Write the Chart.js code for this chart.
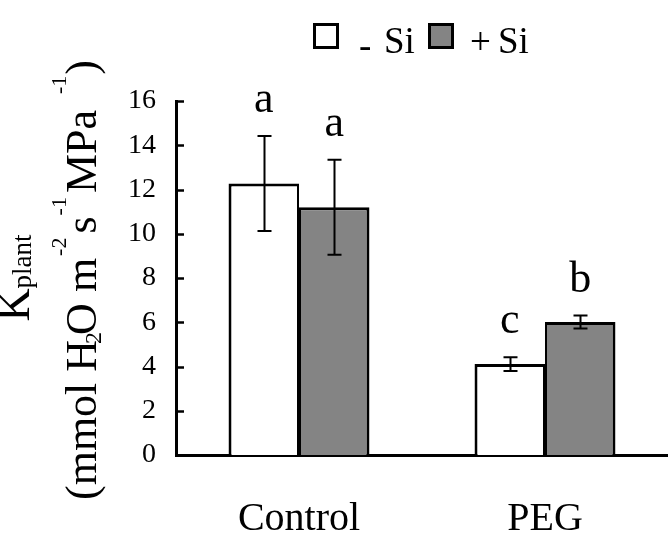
<!DOCTYPE html>
<html>
<head>
<meta charset="utf-8">
<script src="https://cdn.jsdelivr.net/npm/chart.js@4.4.1/dist/chart.umd.min.js"></script>
<style>
html,body{margin:0;padding:0;background:#fff;}
#wrap{width:668px;height:535px;}
</style>
</head>
<body>
<div id="wrap"><canvas id="c" width="668" height="535"></canvas></div>
<script>
// ---- data ----
const categories = ['Control', 'PEG'];
const seriesNames = ['- Si', '+ Si'];
const minusSi = [12.27, 4.11];
const plusSi = [11.2, 6.01];
const minusSiErr = [2.15, 0.31];
const plusSiErr = [2.15, 0.29];
const minusSiLetters = ['a', 'c'];
const plusSiLetters = ['a', 'b'];
const yMin = 0, yMax = 16, yStep = 2;

const SERIF = "'Liberation Serif', 'Times New Roman', serif";
const GREY = '#848484';

const errors = [minusSiErr, plusSiErr];
const letters = [minusSiLetters, plusSiLetters];

const overlay = {
  id: 'overlay',
  afterDatasetsDraw(chart) {
    const ctx = chart.ctx;
    const ys = chart.scales.y;
    const area = chart.chartArea;
    ctx.save();
    // inward y ticks
    ctx.strokeStyle = '#000';
    ctx.lineWidth = 2.5;
    ys.ticks.forEach(t => {
      const py = Math.round(ys.getPixelForValue(t.value)) + 0.5;
      ctx.beginPath();
      ctx.moveTo(area.left, py);
      ctx.lineTo(area.left + 8, py);
      ctx.stroke();
    });
    // error bars + letters
    chart.data.datasets.forEach((ds, di) => {
      const meta = chart.getDatasetMeta(di);
      meta.data.forEach((bar, i) => {
        const v = ds.data[i];
        const e = errors[di][i];
        const x = Math.round(bar.x) + 0.5;
        const yt = ys.getPixelForValue(v + e);
        const yb = ys.getPixelForValue(v - e);
        ctx.strokeStyle = '#000';
        ctx.lineWidth = 2;
        ctx.beginPath();
        ctx.moveTo(x, yt); ctx.lineTo(x, yb);
        ctx.moveTo(x - 7, yt); ctx.lineTo(x + 7, yt);
        ctx.moveTo(x - 7, yb); ctx.lineTo(x + 7, yb);
        ctx.stroke();
        ctx.fillStyle = '#000';
        ctx.font = '44px ' + SERIF;
        ctx.textAlign = 'center';
        ctx.textBaseline = 'alphabetic';
        ctx.fillText(letters[di][i], bar.x, yt - 24);
      });
    });
    ctx.restore();
  },
  afterDraw(chart) {
    const ctx = chart.ctx;
    ctx.save();
    ctx.fillStyle = '#000';
    ctx.textBaseline = 'alphabetic';
    ctx.textAlign = 'left';
    // legend
    ctx.lineWidth = 3;
    ctx.strokeStyle = '#000';
    ctx.fillStyle = '#fff';
    ctx.fillRect(314.5, 24.5, 23, 23);
    ctx.strokeRect(314.5, 24.5, 23, 23);
    ctx.fillStyle = GREY;
    ctx.fillRect(429.5, 24.5, 23, 23);
    ctx.strokeRect(429.5, 24.5, 23, 23);
    ctx.fillStyle = '#000';
    ctx.font = '37px ' + SERIF;
    ctx.fillText('-', 359, 58);
    ctx.fillText('Si', 384, 53);
    ctx.fillText('+', 470, 54);
    ctx.fillText('Si', 498, 53);

    // rotated y title
    function rich(segs, bx, cy) {
      let total = 0;
      segs.forEach(s => { ctx.font = s.size + 'px ' + SERIF; s.w = ctx.measureText(s.t).width + (s.gap || 0); total += s.w; });
      ctx.save();
      ctx.translate(bx, cy);
      ctx.rotate(-Math.PI / 2);
      let u = -total / 2;
      segs.forEach(s => {
        ctx.font = s.size + 'px ' + SERIF;
        ctx.fillText(s.t, u + (s.gap || 0), s.dy);
        u += s.w;
      });
      ctx.restore();
    }
    rich([{t:'K', size:46, dy:0}, {t:'plant', size:27, dy:2}], 29, 278);
    rich([
      {t:'(mmol H', size:44, dy:0},
      {t:'2', size:24, dy:5, gap:-4},
      {t:'O m', size:44, dy:0, gap:-3},
      {t:'-2', size:22, dy:-30, gap:2},
      {t:'s', size:44, dy:0, gap:4},
      {t:'-1', size:22, dy:-30, gap:1},
      {t:'MPa', size:44, dy:0, gap:4},
      {t:'-1', size:22, dy:-30, gap:16},
      {t:')', size:44, dy:0, gap:1}
    ], 96, 280);
    ctx.restore();
  }
};

new Chart(document.getElementById('c'), {
  type: 'bar',
  data: {
    labels: categories,
    datasets: [
      { label: seriesNames[0], data: minusSi, backgroundColor: '#ffffff', borderColor: '#000',
        borderWidth: {top: 3, left: 3, right: 2, bottom: 0}, borderSkipped: false,
        barPercentage: 1, categoryPercentage: 0.573 },
      { label: seriesNames[1], data: plusSi, backgroundColor: GREY, borderColor: '#000',
        borderWidth: {top: 3, left: 2, right: 3, bottom: 0}, borderSkipped: false,
        barPercentage: 1, categoryPercentage: 0.573 }
    ]
  },
  options: {
    responsive: false,
    animation: false,
    devicePixelRatio: 1,
    layout: { padding: { top: 101, left: 0, right: 0, bottom: 0 } },
    plugins: { legend: { display: false }, tooltip: { enabled: false } },
    scales: {
      x: {
        grid: { display: false, drawTicks: false },
        border: { display: true, color: '#000', width: 3 },
        ticks: { color: '#000', font: { family: SERIF, size: 40 }, padding: 40, maxRotation: 0 },
        afterFit(s) { s.height = 80; }
      },
      y: {
        min: yMin, max: yMax,
        grid: { display: false, drawTicks: false },
        border: { display: true, color: '#000', width: 3 },
        ticks: { stepSize: yStep, color: '#000', font: { family: SERIF, size: 28 }, padding: 20 },
        afterFit(s) { s.width = 176; }
      }
    }
  },
  plugins: [overlay]
});
</script>
</body>
</html>
